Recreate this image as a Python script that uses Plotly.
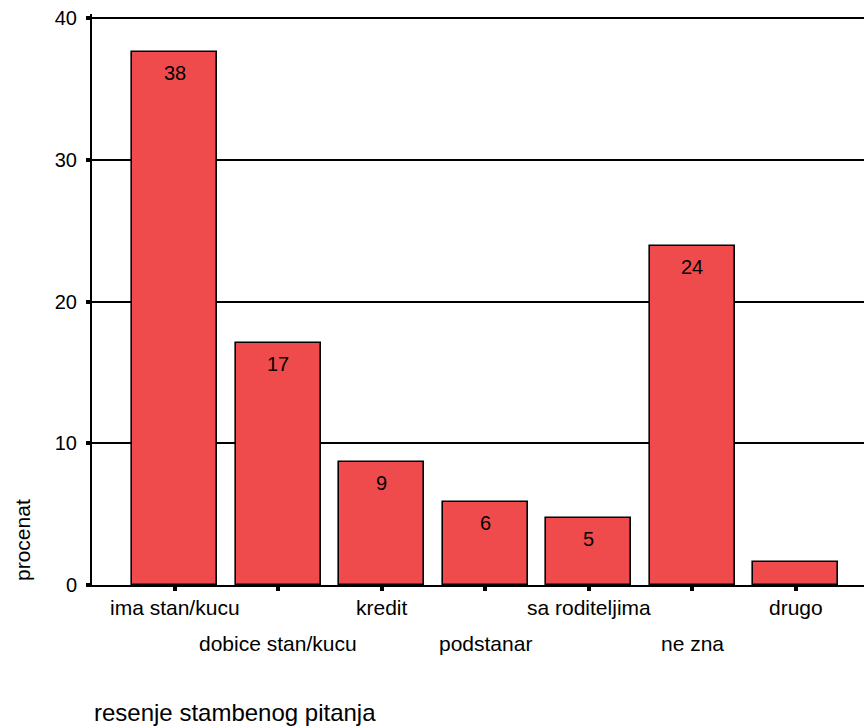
import plotly.graph_objects as go

categories = ["ima stan/kucu", "dobice stan/kucu", "kredit", "podstanar",
              "sa roditeljima", "ne zna", "drugo"]
values = [37.6, 17.1, 8.7, 5.85, 4.75, 23.9, 1.6]
value_labels = ["38", "17", "9", "6", "5", "24", ""]
y_ticks = [0, 10, 20, 30, 40]

FONT = "Liberation Sans, Arial, sans-serif"
W, H = 864, 726
ML, MT, MB, MR = 92, 14, 141, 0
PH = H - MT - MB
PW = W - ML - MR
Y0 = 585  # pixel of y = 0

fig = go.Figure()
fig.add_trace(go.Bar(
    x=list(range(len(categories))), y=values,
    width=0.82,
    marker=dict(color="#F04B4C", line=dict(color="black", width=1.6)),
    hoverinfo="skip",
))

annotations = []
for i, (v, lab) in enumerate(zip(values, value_labels)):
    if lab:
        annotations.append(dict(x=i, y=v, xref="x", yref="y", text=lab,
                                showarrow=False, yshift=-21, yanchor="middle",
                                font=dict(family=FONT, size=20, color="black")))
for i, c in enumerate(categories):
    shift = -22 if i % 2 == 0 else -58
    annotations.append(dict(x=i, y=0, xref="x", yref="paper", text=c,
                            showarrow=False, yshift=shift, yanchor="middle",
                            font=dict(family=FONT, size=21, color="black")))
annotations.append(dict(x=(22 - ML) / PW, y=(Y0 - 540) / PH,
                        xref="paper", yref="paper", text="procenat",
                        textangle=-90, showarrow=False,
                        xanchor="center", yanchor="middle",
                        font=dict(family=FONT, size=21, color="black")))
annotations.append(dict(x=0, y=(Y0 - 712) / PH, xref="paper", yref="paper",
                        text="resenje stambenog pitanja", showarrow=False,
                        xanchor="left", yanchor="middle",
                        font=dict(family=FONT, size=24, color="black")))

fig.update_layout(
    width=W, height=H,
    margin=dict(l=ML, r=MR, t=MT, b=MB, pad=0),
    plot_bgcolor="white", paper_bgcolor="white",
    showlegend=False,
    font=dict(family=FONT, size=20, color="black"),
    annotations=annotations,
    bargap=0,
)
fig.update_xaxes(
    range=[-0.8, 6.66],
    tickvals=list(range(len(categories))),
    ticktext=[""] * len(categories),
    ticks="outside", ticklen=4, tickwidth=4, tickcolor="black",
    showline=True, linecolor="black", linewidth=2,
    showgrid=False, zeroline=False,
)
fig.update_yaxes(
    range=[0, 40.3],
    tickvals=y_ticks,
    ticks="outside", ticklen=4, tickwidth=4, tickcolor="black",
    ticklabelstandoff=5, ticklabeloverflow="allow",
    showline=True, linecolor="black", linewidth=2,
    showgrid=True, gridcolor="black", gridwidth=1.6,
    zeroline=False,
    tickfont=dict(family=FONT, size=20, color="black"),
)

fig.write_html("out.html",
               config={"displayModeBar": False},
               post_script="document.body.style.margin='0px';"
                           "document.body.style.overflow='hidden';")
